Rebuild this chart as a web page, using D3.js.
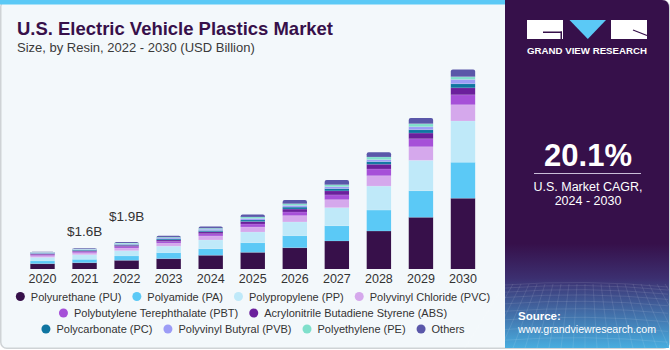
<!DOCTYPE html>
<html>
<head>
<meta charset="utf-8">
<script src="https://cdn.jsdelivr.net/npm/d3@7"></script>
<style>
  html, body { margin: 0; padding: 0; background: #ffffff; }
  svg { display: block; font-family: "Liberation Sans", Arial, sans-serif; }
</style>
</head>
<body>
<div id="chart"></div>
<script>
// Data (USD Billion)
const years = ["2020", "2021", "2022", "2023", "2024", "2025", "2026", "2027", "2028", "2029", "2030"];
const resins = [
    "Polyurethane (PU)", "Polyamide (PA)", "Polypropylene (PP)", "Polyvinyl Chloride (PVC)",
    "Polybutylene Terephthalate (PBT)", "Acrylonitrile Butadiene Styrene (ABS)",
    "Polycarbonate (PC)", "Polyvinyl Butyral (PVB)", "Polyethylene (PE)", "Others"
];
const polyurethane = [0.38, 0.45, 0.62, 0.74, 0.98, 1.19, 1.52, 2.00, 2.71, 3.69, 5.05];
const polyamide    = [0.19, 0.24, 0.31, 0.43, 0.47, 0.69, 0.86, 1.09, 1.50, 1.90, 2.57];
const polypropylene = [0.26, 0.33, 0.38, 0.46, 0.62, 0.76, 0.98, 1.29, 1.71, 2.17, 2.95];
const pvc          = [0.12, 0.14, 0.19, 0.21, 0.29, 0.36, 0.45, 0.57, 0.74, 0.97, 1.16];
const pbt          = [0.07, 0.08, 0.10, 0.12, 0.16, 0.21, 0.26, 0.34, 0.48, 0.57, 0.71];
const abs          = [0.06, 0.07, 0.09, 0.11, 0.14, 0.18, 0.21, 0.29, 0.34, 0.41, 0.50];
const polycarbonate = [0.04, 0.05, 0.06, 0.07, 0.09, 0.11, 0.14, 0.16, 0.19, 0.24, 0.29];
const pvb          = [0.04, 0.04, 0.05, 0.07, 0.09, 0.11, 0.12, 0.14, 0.14, 0.21, 0.31];
const polyethylene = [0.03, 0.04, 0.05, 0.06, 0.07, 0.11, 0.12, 0.14, 0.19, 0.21, 0.19];
const others       = [0.05, 0.06, 0.08, 0.10, 0.13, 0.18, 0.26, 0.34, 0.34, 0.41, 0.52];
const valueLabels = [{ year: "2021", text: "$1.6B" }, { year: "2022", text: "$1.9B" }];

const seriesValues = [polyurethane, polyamide, polypropylene, pvc, pbt, abs, polycarbonate, pvb, polyethylene, others];
const colors = ["#37104a", "#5bc9f6", "#bfe9f9", "#d5a8ec", "#a650d8", "#6b1f9c", "#0f75a1", "#9c9cf6", "#7fdfcb", "#5a57a9"];

const width = 670;
const height = 350;
const panelX = 505;

const svg = d3.select("#chart").append("svg")
    .attr("width", width)
    .attr("height", height);

const defs = svg.append("defs");
const grad = defs.append("linearGradient")
    .attr("id", "srcGrad")
    .attr("x1", 0).attr("y1", 0).attr("x2", 0).attr("y2", 1);
grad.append("stop").attr("offset", "0%").attr("stop-color", "#36104a");
grad.append("stop").attr("offset", "70%").attr("stop-color", "#36104a");
grad.append("stop").attr("offset", "80%").attr("stop-color", "#3c2f70");
grad.append("stop").attr("offset", "100%").attr("stop-color", "#48addf");

// Card background + borders
svg.append("rect")
    .attr("x", 0.75).attr("y", 0.75)
    .attr("width", width - 1.5).attr("height", height - 2.5)
    .attr("rx", 6)
    .attr("fill", "#f3f8fb")
    .attr("stroke", "#cfd3d6")
    .attr("stroke-width", 1.5);

svg.append("rect")
    .attr("x", 0).attr("y", 0)
    .attr("width", panelX).attr("height", 4.5)
    .attr("fill", "#5bc9f6");

// Right panel
const panel = svg.append("g");
panel.append("path")
    .attr("d", `M${panelX},0 H${width - 8} Q${width - 1},0 ${width - 1},8 V${height - 2} H${panelX} Z`)
    .attr("fill", "url(#srcGrad)");

// faint mesh on the lower part of the panel
const mesh = panel.append("g")
    .attr("stroke", "#ffffff")
    .attr("stroke-opacity", 0.14)
    .attr("fill", "none")
    .attr("stroke-width", 0.7);
d3.range(0, 12).forEach(i => {
    const y = 285 + i * i * 0.55 + i * 2.5;
    mesh.append("path").attr("d", `M${panelX},${y} Q${panelX + 80},${y - 6} ${width - 2},${y + 2}`);
});
d3.range(0, 22).forEach(i => {
    const x0 = panelX + i * 8;
    mesh.append("path").attr("d", `M${x0},${284} L${panelX + (x0 - panelX - 80) * 1.5 + 80},${height - 2}`);
});

// Logo
const logo = panel.append("g");
logo.append("rect").attr("x", 527).attr("y", 20).attr("width", 36).attr("height", 19).attr("fill", "#ffffff");
logo.append("rect").attr("x", 543).attr("y", 31.5).attr("width", 19).attr("height", 1.5).attr("fill", "#36104a");
logo.append("rect").attr("x", 560.5).attr("y", 31.5).attr("width", 1.5).attr("height", 7.5).attr("fill", "#36104a");
logo.append("path").attr("d", "M569.5,20 H606 L587.8,39 Z").attr("fill", "#5bc9f6");
logo.append("rect").attr("x", 611).attr("y", 20).attr("width", 36).attr("height", 19).attr("fill", "#ffffff");
logo.append("path").attr("d", "M633,30 L647,35.5").attr("stroke", "#36104a").attr("stroke-width", 1.3);
logo.append("text")
    .attr("x", 587).attr("y", 54)
    .attr("text-anchor", "middle")
    .attr("fill", "#ffffff")
    .attr("font-size", 8.3)
    .attr("font-weight", "bold")
    .attr("textLength", 120)
    .attr("lengthAdjust", "spacingAndGlyphs")
    .text("GRAND VIEW RESEARCH");

panel.append("text")
    .attr("x", 588).attr("y", 165.5)
    .attr("text-anchor", "middle")
    .attr("fill", "#ffffff")
    .attr("font-size", 31)
    .attr("font-weight", "bold")
    .text("20.1%");
panel.append("line")
    .attr("x1", 534).attr("x2", 641)
    .attr("y1", 173.5).attr("y2", 173.5)
    .attr("stroke", "#c9bdd8")
    .attr("stroke-width", 1);
panel.append("text")
    .attr("x", 588).attr("y", 191)
    .attr("text-anchor", "middle")
    .attr("fill", "#ffffff")
    .attr("font-size", 12.5)
    .text("U.S. Market CAGR,");
panel.append("text")
    .attr("x", 588).attr("y", 205)
    .attr("text-anchor", "middle")
    .attr("fill", "#ffffff")
    .attr("font-size", 12.5)
    .text("2024 - 2030");
panel.append("text")
    .attr("x", 518).attr("y", 319.5)
    .attr("fill", "#ffffff")
    .attr("font-size", 11.5)
    .attr("font-weight", "bold")
    .text("Source:");
panel.append("text")
    .attr("x", 518).attr("y", 333)
    .attr("fill", "#ffffff")
    .attr("font-size", 11)
    .attr("textLength", 138)
    .attr("lengthAdjust", "spacingAndGlyphs")
    .text("www.grandviewresearch.com");

// Titles
svg.append("text")
    .attr("x", 17).attr("y", 35)
    .attr("fill", "#37104a")
    .attr("font-size", 18.5)
    .attr("font-weight", "bold")
    .attr("textLength", 316)
    .attr("lengthAdjust", "spacingAndGlyphs")
    .text("U.S. Electric Vehicle Plastics Market");
svg.append("text")
    .attr("x", 17).attr("y", 52)
    .attr("fill", "#3a3a3a")
    .attr("font-size", 13)
    .text("Size, by Resin, 2022 - 2030 (USD Billion)");

// Scales
const xScale = d3.scaleBand()
    .domain(years)
    .range([21.5, 484])
    .paddingInner(0.42)
    .paddingOuter(0.21);

const yScale = d3.scaleLinear()
    .domain([0, 15])
    .range([269, 59]);

const table = years.map((year, i) => {
    const row = { year };
    resins.forEach((r, k) => { row[r] = seriesValues[k][i]; });
    return row;
});

const series = d3.stack().keys(resins)(table);
const color = d3.scaleOrdinal().domain(resins).range(colors);

const barsG = svg.append("g");
series.forEach((s, k) => {
    const last = k === series.length - 1;
    barsG.selectAll(null)
        .data(s)
        .join("path")
        .attr("fill", color(s.key))
        .attr("d", d => {
            const x = xScale(d.data.year);
            const w = xScale.bandwidth();
            const y0 = yScale(d[0]);
            const y1 = yScale(d[1]);
            if (!last) return `M${x},${y0} V${y1} H${x + w} V${y0} Z`;
            const r = 2;
            return `M${x},${y0} V${y1 + r} Q${x},${y1} ${x + r},${y1} H${x + w - r} Q${x + w},${y1} ${x + w},${y1 + r} V${y0} Z`;
        });
});
// faint separators between segments
series.slice(0, -1).forEach(s => {
    barsG.selectAll(null)
        .data(s)
        .join("line")
        .attr("x1", d => xScale(d.data.year))
        .attr("x2", d => xScale(d.data.year) + xScale.bandwidth())
        .attr("y1", d => yScale(d[1]))
        .attr("y2", d => yScale(d[1]))
        .attr("stroke", "#ffffff")
        .attr("stroke-opacity", 0.25)
        .attr("stroke-width", 0.6);
});

// Value labels
const totals = new Map(table.map(row => [row.year, d3.sum(resins, r => row[r])]));
const lift = [12, 21];
svg.selectAll(".vlabel")
    .data(valueLabels)
    .join("text")
    .attr("class", "vlabel")
    .attr("x", d => xScale(d.year) + xScale.bandwidth() / 2)
    .attr("y", (d, i) => yScale(totals.get(d.year)) - lift[i])
    .attr("text-anchor", "middle")
    .attr("fill", "#333333")
    .attr("font-size", 13.5)
    .text(d => d.text);

// X axis
const xAxis = svg.append("g")
    .attr("transform", "translate(0,269)")
    .call(d3.axisBottom(xScale).tickSize(0).tickPadding(5));
xAxis.select(".domain").remove();
xAxis.selectAll(".tick text")
    .attr("fill", "#333333")
    .attr("font-size", 12.5)
    .attr("font-family", "Liberation Sans, Arial, sans-serif");

// Legend
const legendRows = [resins.slice(0, 4), resins.slice(4, 6), resins.slice(6)];
const legendY = [297, 313.5, 329.5];
const legendCenter = 253;
const legendG = svg.append("g").attr("font-size", 11).attr("fill", "#333333");
legendRows.forEach((row, ri) => {
    const g = legendG.append("g");
    let x = 0;
    row.forEach(name => {
        g.append("circle")
            .attr("cx", x + 4.5)
            .attr("cy", legendY[ri] - 0.5)
            .attr("r", 4.5)
            .attr("fill", color(name));
        const t = g.append("text")
            .attr("x", x + 15)
            .attr("y", legendY[ri])
            .attr("dy", "0.35em")
            .text(name);
        x += 15 + t.node().getComputedTextLength() + 11;
    });
    const total = x - 11;
    g.attr("transform", `translate(${legendCenter - total / 2},0)`);
});
</script>
</body>
</html>
